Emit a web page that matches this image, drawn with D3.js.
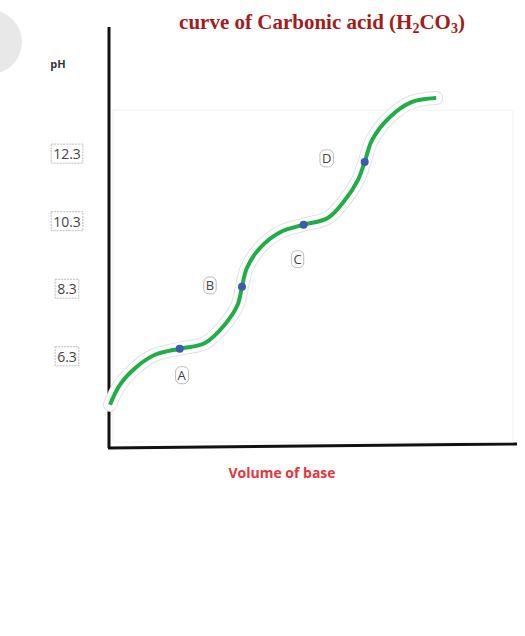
<!DOCTYPE html><html><head><meta charset="utf-8"><script src="https://cdn.jsdelivr.net/npm/d3@7"></script>
<style>body{margin:0;background:#fff}</style></head><body><svg id="c" width="525" height="636"></svg>
<script>
const volume=[0,0.16,0.41,0.73,1.13,1.54,1.86,2.07,2.14,2.22,2.43,2.76,3.14,3.53,3.81,4.02,4.13,4.25,4.54,4.89,5.29];
const pH=[4.88,5.47,5.97,6.36,6.54,6.71,7.25,7.84,8.37,8.93,9.52,9.99,10.21,10.41,10.94,11.53,12.07,12.72,13.4,13.84,13.96];
const pointLabels=["A","B","C","D"];
const pointVol=[1.13,2.14,3.14,4.13];
const pointPH=[6.54,8.37,10.21,12.07];
const tickLabels=["6.3","8.3","10.3","12.3"];
const tickValues=[6.3,8.3,10.3,12.3];

const svg=d3.select("#c");
const x=d3.scaleLinear().domain([0,6.6]).range([110,517]);
const y=d3.scaleLinear().domain([3.6,16.3]).range([448,19]);
svg.append("circle").attr("cx",-10).attr("cy",42).attr("r",32).attr("fill","#e8e8e8");
svg.append("text").attr("x",322).attr("y",29).attr("text-anchor","middle")
 .attr("font-family","Liberation Serif").attr("font-weight","bold").attr("font-size",21).attr("fill","#a51b1b")
 .html('curve of Carbonic acid (H<tspan font-size="14" dy="4">2</tspan><tspan dy="-4">CO</tspan><tspan font-size="14" dy="4">3</tspan><tspan dy="-4">)</tspan>');
svg.append("text").attr("x",58).attr("y",68).attr("text-anchor","middle").attr("font-family","Open Sans").attr("font-weight","bold").attr("font-size",11).attr("fill","#333").text("pH");
tickValues.forEach((v,i)=>{
  const g=svg.append("g");
  const t=g.append("text").attr("x",67).attr("y",y(v)+5).attr("text-anchor","middle").attr("font-family","Open Sans").attr("font-size",14).attr("fill","#444").text(tickLabels[i]);
  const b=t.node().getBBox();
  g.insert("rect","text").attr("x",b.x-2).attr("y",b.y).attr("width",b.width+4).attr("height",b.height).attr("fill","none").attr("stroke","#bbb").attr("stroke-dasharray","2,1");
});
svg.append("line").attr("x1",109).attr("x2",109).attr("y1",y(16.3)+8).attr("y2",y(3.6)).attr("stroke","#111").attr("stroke-width",3);
svg.append("line").attr("x1",108).attr("x2",x(6.6)).attr("y1",y(3.6)).attr("y2",y(3.6)-4).attr("stroke","#111").attr("stroke-width",3);
svg.append("rect").attr("x",113).attr("y",110).attr("width",400).attr("height",332).attr("fill","none").attr("stroke","#f2f2f2");
const data=volume.map((v,i)=>[v,pH[i]]);
const line=d3.line().x(d=>x(d[0])).y(d=>y(d[1])).curve(d3.curveCatmullRom.alpha(0.5));
svg.append("path").attr("d",line(data)).attr("fill","none").attr("stroke","#e2e2e2").attr("stroke-width",14).attr("stroke-linecap","round");
svg.append("path").attr("d",line(data)).attr("fill","none").attr("stroke","#fff").attr("stroke-width",12).attr("stroke-linecap","round");
svg.append("path").attr("d",line(data)).attr("fill","none").attr("stroke","#1fae45").attr("stroke-width",4);
svg.selectAll(".pt").data(pointVol).join("circle").attr("cx",d=>x(d)).attr("cy",(d,i)=>y(pointPH[i])).attr("r",4).attr("fill","#3b5bb0");
const off=[[2,31],[-32,3],[-6,39],[-38,1]];
pointLabels.forEach((l,i)=>{
  const g=svg.append("g");
  const t=g.append("text").attr("x",x(pointVol[i])+off[i][0]).attr("y",y(pointPH[i])+off[i][1]).attr("text-anchor","middle").attr("font-family","Open Sans").attr("font-size",13).attr("fill","#444").text(l);
  const b=t.node().getBBox();
  g.insert("rect","text").attr("x",b.x-2).attr("y",b.y+1).attr("width",b.width+4).attr("height",b.height-1).attr("rx",5).attr("fill","#fff").attr("stroke","#bbb");
});
svg.append("text").attr("x",282).attr("y",478).attr("text-anchor","middle").attr("font-family","Open Sans").attr("font-weight","bold").attr("font-size",14).attr("fill","#e8343a").text("Volume of base");
</script></body></html>
